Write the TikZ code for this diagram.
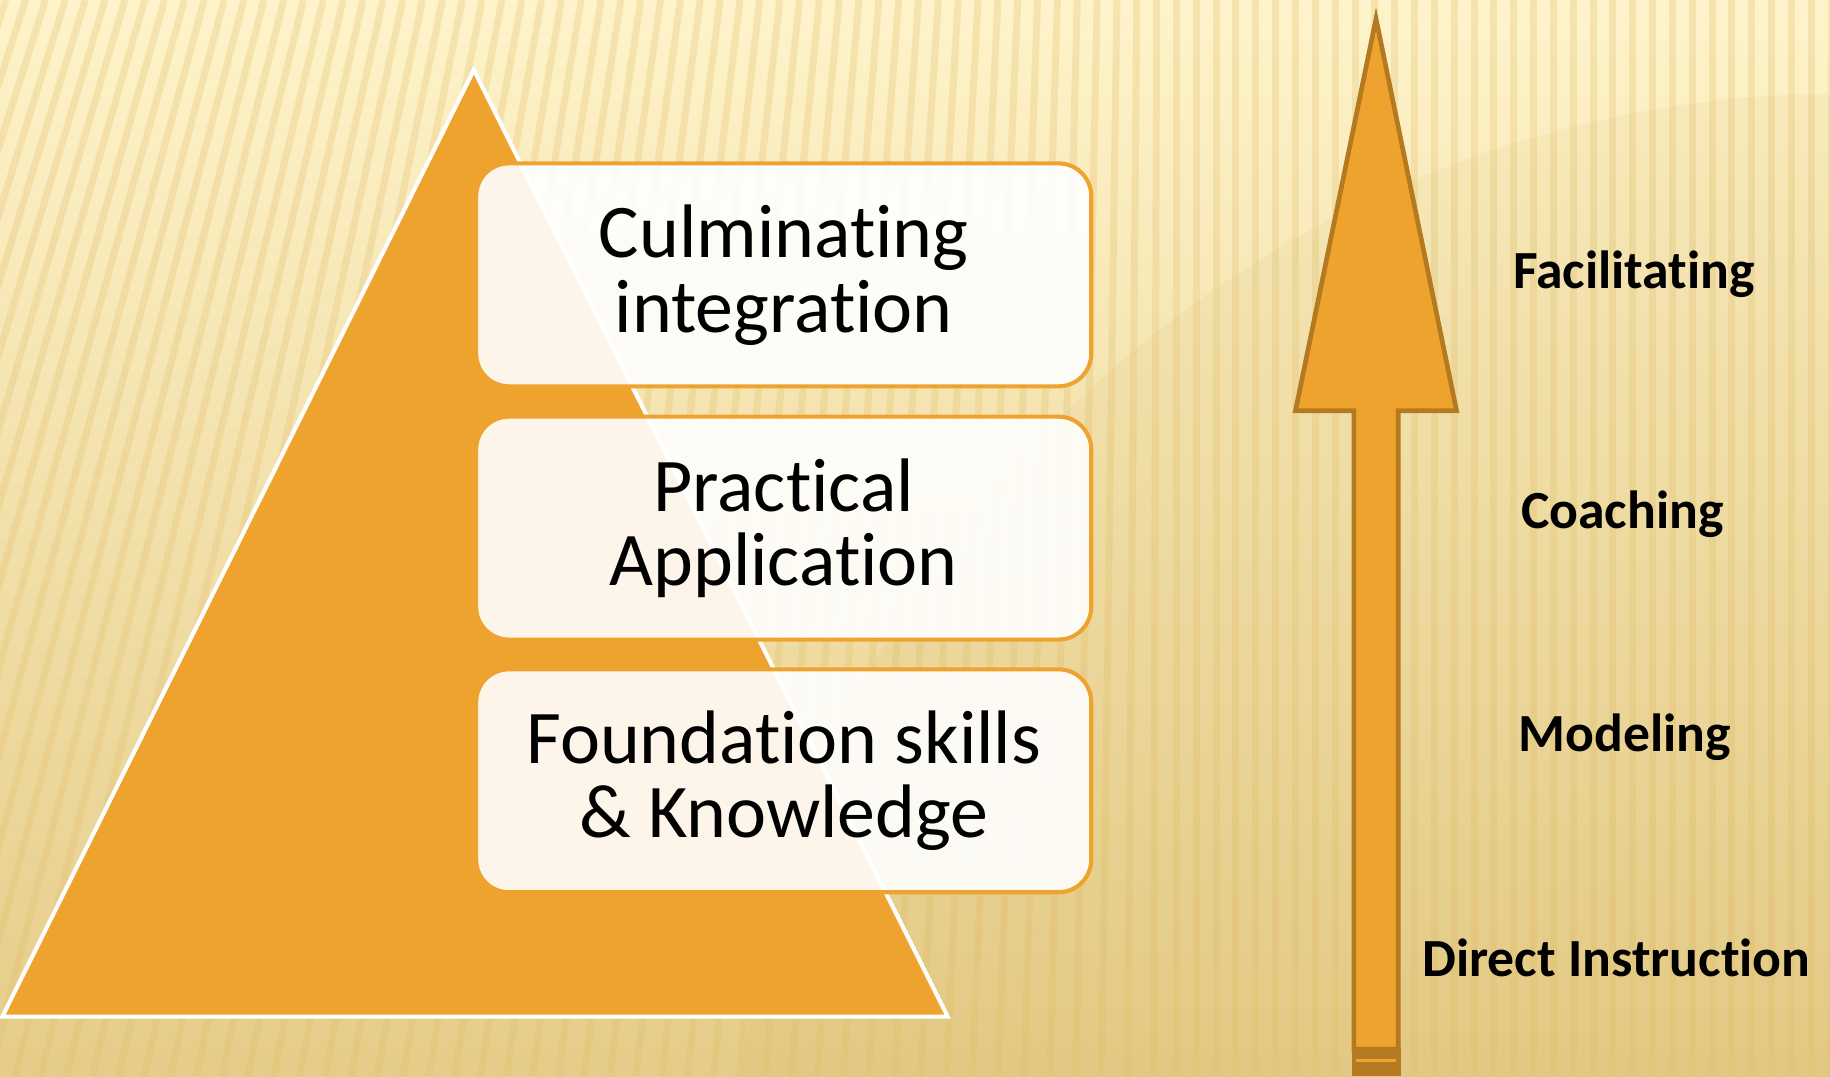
\documentclass[tikz,border=0pt]{standalone}
\usepackage{fontspec}
\setmainfont{Carlito}[Ligatures={NoCommon,NoContextual}]
\definecolor{orangeA}{HTML}{EFA32F}
\definecolor{arrowdark}{HTML}{B5791F}
\definecolor{bgTop}{HTML}{FEF3CA}
\definecolor{bgMid}{HTML}{F7E4AA}
\definecolor{bgBot}{HTML}{E5CC88}
\definecolor{stripec}{HTML}{E2BE68}
\definecolor{shadowc}{HTML}{C9A449}
\begin{document}
\begin{tikzpicture}[x=1pt,y=-1pt,
  boxstyle/.style={draw=orangeA, line width=3.5pt, fill=white, fill opacity=0.9, text opacity=1,
    rounded corners=28pt, minimum width=527pt, minimum height=191pt, inner sep=0pt,
    align=center, font=\fontsize{65}{64}\selectfont},
  lbl/.style={anchor=base, inner sep=0pt, font=\fontsize{46}{50}\selectfont\bfseries},
  stripe/.style={stripec, line width=6pt, opacity=0.28}]
\useasboundingbox (0,0) rectangle (1568,922);
% background
\shade[top color=bgTop, middle color=bgMid, bottom color=bgBot] (0,0) rectangle (1568,922);
\begin{scope}
  \clip (0,0) rectangle (1568,922);
  \foreach \x in {-420,-403,...,1620} {
    \pgfmathsetmacro{\d}{304*max(0,1-\x/1000)}
    \draw[stripe] (\x,0) -- (\x-\d,922);
  }
  \fill[shadowc, opacity=0.08] (1580,1030) circle (950);
\end{scope}
% pyramid
\draw[white, line width=3.5pt, fill=orangeA, line join=miter] (406,60) -- (812,871) -- (2,871) -- cycle;
% boxes
\node[boxstyle] (b1) at (671.5,235.5) {Culminating\\integration};
\node[boxstyle] (b2) at (671.5,452.5) {Practical\\Application};
\node[boxstyle] (b3) at (671.5,669) {Foundation skills\\\& Knowledge};
% arrow
\fill[arrowdark] (1158,897) rectangle (1200,922);
\draw[orangeA, line width=3pt] (1162,908.5) -- (1196,908.5);
\draw[arrowdark, fill=orangeA, line width=4pt, line join=miter]
  (1179,16) -- (1248,352) -- (1198,352) -- (1198,899) -- (1160,899) -- (1160,352) -- (1110,352) -- cycle;
% labels
\node[lbl] (l1) at (1400,247) {Facilitating};
\node[lbl] (l2) at (1390,453) {Coaching};
\node[lbl] (l3) at (1392,644) {Modeling};
\node[lbl] (l4) at (1385,837) {Direct Instruction};
\end{tikzpicture}
\end{document}
